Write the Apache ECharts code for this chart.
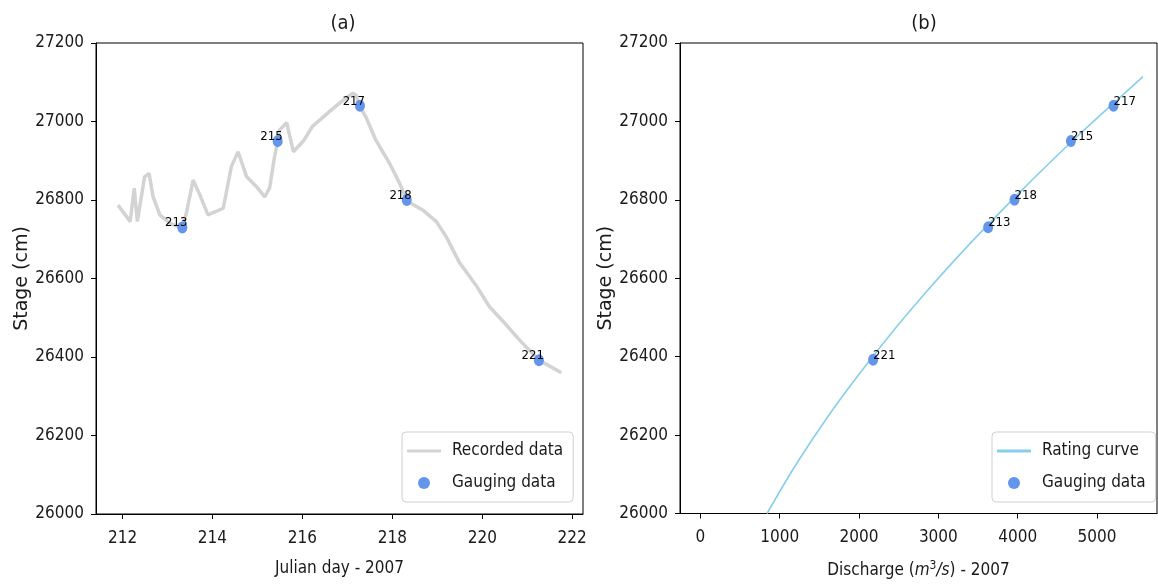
<!DOCTYPE html>
<html>
<head>
<meta charset="utf-8">
<script src="https://cdn.jsdelivr.net/npm/echarts@6/dist/echarts.min.js"></script>
<style>
  html, body { margin: 0; background: #fff; }
  #main { width: 1158px; height: 584px; }
</style>
</head>
<body>
<div id="main"></div>
<script>
// (a) recorded stage, Julian day 2007
var recDay = [211.9, 212.17, 212.26, 212.33, 212.49, 212.59, 212.68, 212.83, 213.05, 213.31,
  213.42, 213.57, 213.72, 213.9, 214.24, 214.42, 214.57, 214.76, 214.98, 215.16,
  215.27, 215.38, 215.45, 215.49, 215.65, 215.8, 216.04, 216.22, 216.6, 216.86,
  217.12, 217.19, 217.28, 217.41, 217.63, 217.94, 218.16, 218.32, 218.68, 218.98,
  219.2, 219.49, 219.86, 220.16, 220.5, 220.83, 221.26, 221.76];
var recStage = [26787, 26745, 26830, 26745, 26859, 26868, 26808, 26762, 26741, 26728,
  26766, 26851, 26813, 26762, 26779, 26885, 26923, 26859, 26834, 26808,
  26830, 26910, 26949, 26978, 26997, 26923, 26953, 26987, 27025, 27050,
  27072, 27067, 27038, 27012, 26953, 26893, 26843, 26798, 26774, 26745,
  26706, 26641, 26583, 26528, 26486, 26443, 26392, 26360];

// gauging campaigns
var gaugeLabels = ['213', '215', '217', '218', '221'];
var gaugeDay = [213.33, 215.45, 217.28, 218.32, 221.26];
var gaugeStage = [26730, 26950, 27040, 26800, 26392];
var gaugeQ = [3628, 4671, 5208, 3960, 2178];

// (b) rating curve
var curveQ = [841, 1200, 1600, 2000, 2400, 2800, 3200, 3600, 4000, 4400, 4800, 5200, 5579];
var curveStage = [26000, 26123, 26245, 26355, 26458, 26554, 26645, 26731, 26814, 26894, 26971, 27045, 27114];

var dayTicks = [212, 214, 216, 218, 220, 222];
var qTicks = [0, 1000, 2000, 3000, 4000, 5000];

var FONT = "'DejaVu Sans Condensed', 'DejaVu Sans', sans-serif";
var INK = '#1a1a1a';

function zip(a, b) {
  return a.map(function (v, i) { return [v, b[i]]; });
}
function gaugePoints(xs) {
  return xs.map(function (v, i) { return { name: gaugeLabels[i], value: [v, gaugeStage[i]] }; });
}
function plain(v) { return String(v); }

function xAxis(grid, min, max, ticks, name, rich) {
  return {
    type: 'value', gridIndex: grid, min: min, max: max,
    name: name, nameLocation: 'middle', nameGap: 46,
    nameTextStyle: { fontFamily: FONT, fontSize: 17, color: INK, rich: rich },
    axisLine: { onZero: false, lineStyle: { color: '#000', width: 1 } },
    axisTick: { length: 5, customValues: ticks, lineStyle: { color: '#000' } },
    axisLabel: { customValues: ticks, formatter: plain, margin: 16, fontFamily: FONT, fontSize: 17, color: INK },
    splitLine: { show: false }
  };
}
function yAxis(grid) {
  return {
    type: 'value', gridIndex: grid, min: 26000, max: 27200, interval: 200,
    name: 'Stage (cm)', nameLocation: 'middle', nameGap: 64,
    nameTextStyle: { fontFamily: "'DejaVu Sans', sans-serif", fontSize: 19, color: INK },
    axisLine: { onZero: false, lineStyle: { color: '#000', width: 1 } },
    axisTick: { length: 5, lineStyle: { color: '#000' } },
    axisLabel: { formatter: plain, margin: 12, fontFamily: FONT, fontSize: 17, color: INK },
    splitLine: { show: false }
  };
}
function legend(left, first, color) {
  return {
    left: left, top: 432, orient: 'vertical', selectedMode: false,
    data: [
      { name: first, icon: 'path://M0,0H34V3H0Z', itemStyle: { color: color } },
      { name: 'Gauging data', icon: 'circle' }
    ],
    itemWidth: 34, itemHeight: 12, itemGap: 12,
    padding: [9, 10, 9, 5],
    backgroundColor: '#fff', borderColor: '#d0d0d0', borderWidth: 1, borderRadius: 4,
    textStyle: { fontFamily: FONT, fontSize: 17, color: INK, lineHeight: 20, padding: [0, 0, 0, 6] }
  };
}
function scatter(axis, xs, align, offset) {
  return {
    name: 'Gauging data', type: 'scatter', xAxisIndex: axis, yAxisIndex: axis,
    data: gaugePoints(xs), symbol: 'circle', symbolSize: [10, 12], z: 3,
    itemStyle: { color: '#6495ed', opacity: 1 },
    label: {
      show: true, formatter: '{b}', position: 'inside', align: align, verticalAlign: 'bottom',
      offset: offset, fontFamily: FONT, fontSize: 13, color: '#000'
    }
  };
}

var chart = echarts.init(document.getElementById('main'));
var option = {
  animation: false,
  title: [
    { text: '(a)', left: 338, top: 9, textAlign: 'center',
      textStyle: { fontFamily: FONT, fontSize: 20, fontWeight: 'normal', color: INK } },
    { text: '(b)', left: 919, top: 9, textAlign: 'center',
      textStyle: { fontFamily: FONT, fontSize: 20, fontWeight: 'normal', color: INK } }
  ],
  grid: [
    { left: 96, top: 43, width: 487, height: 471, show: true, borderColor: '#000', borderWidth: 1 },
    { left: 680, top: 43, width: 477, height: 471, show: true, borderColor: '#000', borderWidth: 1 }
  ],
  xAxis: [
    xAxis(0, 211.41, 222.24, dayTicks, 'Julian day - 2007'),
    xAxis(1, -256, 5756, qTicks, '{n|Discharge (}{i|m}{s|3}{i|/s}{n|) - 2007}', {
      n: { fontFamily: FONT, fontSize: 17, color: INK, lineHeight: 22 },
      i: { fontFamily: FONT, fontSize: 17, color: INK, fontStyle: 'italic', lineHeight: 22 },
      s: { fontFamily: FONT, fontSize: 12, color: INK, verticalAlign: 'top', lineHeight: 22 }
    })
  ],
  yAxis: [yAxis(0), yAxis(1)],
  legend: [legend(402, 'Recorded data', '#d3d3d3'), legend(992, 'Rating curve', '#87ceeb')],
  series: [
    {
      name: 'Recorded data', type: 'line', xAxisIndex: 0, yAxisIndex: 0,
      data: zip(recDay, recStage), symbol: 'none', z: 2,
      lineStyle: { color: '#d3d3d3', width: 3.5 }, itemStyle: { color: '#d3d3d3' }
    },
    scatter(0, gaugeDay, 'right', [5, 2]),
    {
      name: 'Rating curve', type: 'line', xAxisIndex: 1, yAxisIndex: 1,
      data: zip(curveQ, curveStage), symbol: 'none', smooth: 0.3, z: 2,
      lineStyle: { color: '#87ceeb', width: 1.6 }, itemStyle: { color: '#87ceeb' }
    },
    scatter(1, gaugeQ, 'left', [0, 2])
  ]
};
chart.setOption(option);
</script>
</body>
</html>
